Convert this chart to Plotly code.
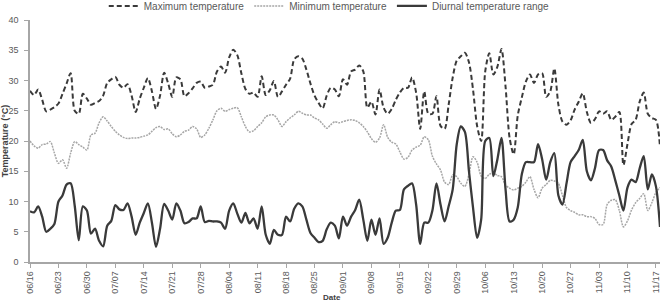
import plotly.graph_objects as go
import pandas as pd

dates = pd.date_range("2019-06-16", periods=156, freq="D")

max_temp = [
    28.3, 27.6, 28.5, 26.8, 24.9, 25.2, 25.6, 26.2, 27.8, 29.5,
    31.2, 25.0, 24.5, 27.8, 27.0, 26.0, 26.3, 26.6, 27.5, 29.6,
    30.2, 30.6, 29.3, 28.8, 29.4, 27.5, 24.8, 27.0, 28.8, 30.4,
    28.2, 25.3, 27.5, 31.3, 29.5, 27.3, 30.5, 30.2, 27.4, 27.9,
    28.7, 29.6, 29.8, 28.8, 29.0, 29.3, 31.5, 32.3, 31.3, 33.8,
    35.1, 34.2, 31.2, 28.6, 27.8, 28.0, 27.3, 30.7, 27.6, 28.4,
    29.9, 27.3, 28.2, 29.3, 30.3, 33.5, 34.0, 33.6, 31.8, 29.5,
    27.5, 26.3, 25.4, 27.5, 28.8, 28.5, 27.4, 30.2, 29.3, 31.5,
    31.8, 32.5, 31.5, 25.5, 26.5, 24.4, 28.5, 25.5, 24.5, 25.3,
    26.8, 28.0, 28.8, 28.8, 30.5, 28.0, 22.0, 28.2, 24.5, 24.5,
    27.4, 22.5, 22.0, 26.0, 30.5, 33.3, 34.0, 34.6, 33.0, 28.5,
    22.5, 20.0, 31.5, 34.5, 31.0, 32.3, 35.2, 29.0, 20.5, 17.8,
    24.2, 27.2, 29.8, 31.0, 29.6, 31.0, 31.2, 27.3, 28.2, 32.0,
    26.0, 23.2, 22.7, 23.4, 25.2, 26.5, 27.9, 24.8, 23.0, 23.6,
    24.9, 24.5, 24.9, 23.5, 24.0, 24.8, 16.0, 19.5, 22.8, 23.5,
    26.5, 28.0, 24.5, 23.8, 23.5, 19.0,
]

min_temp = [
    20.0, 19.2, 18.8, 19.4, 19.5, 19.9, 18.0, 16.3, 16.9, 15.5,
    18.0, 19.9, 19.4, 19.0, 18.5, 21.0, 21.3, 23.0, 24.0, 23.3,
    22.4, 21.6, 21.0, 20.6, 20.4, 20.5, 20.5, 20.6, 20.8, 21.0,
    21.6, 22.2, 22.4, 21.9, 22.0, 21.2, 20.7, 21.0, 21.6, 21.8,
    22.4, 22.0, 20.6, 21.0, 22.1, 23.5, 25.0, 25.4, 24.9, 25.2,
    25.4, 25.5, 24.0, 22.4, 21.5, 21.7, 22.4, 23.0, 24.0, 24.3,
    24.3, 23.5, 22.4, 23.2, 23.8, 24.3, 24.9, 24.6, 24.3, 24.3,
    23.8, 23.5, 22.8, 22.1, 22.7, 23.2, 23.0, 23.2, 23.4, 23.5,
    23.4, 23.0, 22.4, 21.5, 20.4, 19.8, 20.5, 22.7, 20.6, 19.8,
    19.5, 18.2, 17.0, 17.3, 18.5, 19.0, 19.3, 20.7, 20.2, 17.5,
    16.2, 15.2, 13.2, 12.8, 14.4, 14.1, 13.0, 12.5, 14.5, 17.4,
    16.5, 14.2, 13.8, 14.5, 14.7, 14.3, 14.1, 12.7, 12.2, 11.9,
    12.2, 12.5, 13.2, 14.1, 12.0, 10.6, 12.2, 12.8, 13.5, 13.4,
    13.0, 11.0, 9.0, 8.5, 8.2, 7.8, 7.8, 7.5, 7.5, 7.2,
    6.2, 6.2, 9.5, 10.2, 10.3, 8.5, 5.8, 6.8, 8.6, 9.8,
    10.5, 11.3, 8.5, 9.8, 11.5, 12.3,
]

dtr = [
    8.4, 8.2, 9.2, 7.5, 5.0, 5.5, 6.3, 10.0, 11.0, 12.8,
    13.0, 9.3, 3.6, 9.2, 8.5, 4.7, 5.5, 3.5, 2.6, 6.0,
    6.8, 9.4, 8.7, 8.6, 9.7, 7.5, 4.5, 6.5, 8.1, 9.7,
    6.5, 2.5, 5.5, 9.6, 8.5, 7.0, 9.7, 8.5, 6.4, 6.6,
    7.2, 7.2, 9.2, 6.6, 6.8, 6.7, 6.7, 6.5, 5.5, 8.5,
    9.7, 8.0, 6.5, 8.1, 6.4, 7.2, 5.5, 9.2, 4.5, 3.0,
    5.3, 4.5, 4.5, 7.5, 6.7, 8.8, 9.7, 9.2, 7.0, 4.8,
    4.0, 3.3, 3.5, 5.4, 6.5, 6.0, 3.9, 7.5, 6.0, 7.5,
    8.6, 10.3, 7.0, 3.5, 7.0, 4.5, 7.2, 3.0, 4.0, 6.5,
    8.5, 8.6, 12.0, 12.6, 13.0, 9.5, 3.0, 6.5, 6.5, 8.5,
    13.0, 9.5, 6.7, 9.2, 12.0, 19.5, 22.4, 21.5, 15.0, 9.0,
    4.0, 7.0, 20.0, 20.5, 14.2, 17.0, 20.5, 12.0, 6.7, 7.0,
    9.0, 14.5, 16.5, 16.5, 16.5, 19.5, 17.0, 13.6, 16.5, 18.0,
    11.0, 9.5, 13.0, 16.5, 17.5, 18.5, 20.2, 15.0, 13.5, 15.5,
    18.5, 18.5, 16.8, 15.8, 13.5, 11.0, 8.5, 12.3, 13.6, 13.2,
    15.5, 17.5, 12.0, 14.5, 12.5, 5.8,
]

names = ["Maximum temperature", "Minimum temperature", "Diurnal temperature range"]

fig = go.Figure()
fig.add_trace(go.Scatter(
    x=dates, y=max_temp, name=names[0], mode="lines",
    line=dict(color="#3a3a3a", width=2, dash="5px,3px", shape="spline", smoothing=0.8),
))
fig.add_trace(go.Scatter(
    x=dates, y=min_temp, name=names[1], mode="lines",
    line=dict(color="#a6a6a6", width=1.5, dash="2px,1px", shape="spline", smoothing=0.8),
))
fig.add_trace(go.Scatter(
    x=dates, y=dtr, name=names[2], mode="lines",
    line=dict(color="#3a3a3a", width=2.3, shape="spline", smoothing=0.8),
))

axis_color = "#a6a6a6"
font_color = "#595959"

fig.update_layout(
    width=667, height=302,
    margin=dict(l=30, r=7, t=20, b=40, autoexpand=False),
    paper_bgcolor="white", plot_bgcolor="white",
    font=dict(family="Liberation Sans, Arial, sans-serif", color=font_color, size=9),
    showlegend=True,
    legend=dict(
        orientation="h", x=0.475, xanchor="center", y=1.058, yanchor="middle",
        font=dict(size=10, color=font_color), itemwidth=30,
        bgcolor="rgba(0,0,0,0)", tracegroupgap=0,
    ),
    xaxis=dict(
        type="date",
        range=[dates[0], dates[-1]],
        tick0=dates[0], dtick=7 * 86400000, tickformat="%m/%d",
        tickangle=-90, ticks="outside", ticklen=4, tickcolor=axis_color,
        showline=True, linecolor=axis_color, linewidth=1.5,
        showgrid=False, zeroline=False,
        tickfont=dict(size=9, color=font_color),
    ),
    yaxis=dict(
        range=[0, 40], dtick=5, tick0=0,
        ticks="outside", ticklen=4, tickcolor=axis_color,
        showline=True, linecolor=axis_color, linewidth=1.5,
        showgrid=False, zeroline=False,
        tickfont=dict(size=9, color=font_color),
        ticklabelstandoff=4,
        title=dict(text="<b>Temperature (°C)</b>", font=dict(size=9, color="#404040"), standoff=4),
    ),
    annotations=[dict(
        text="<b>Date</b>", xref="paper", yref="paper", x=0.48, y=-0.145,
        xanchor="center", yanchor="middle", showarrow=False,
        font=dict(size=8, color="#404040"),
    )],
)

fig.write_html("out.html")
